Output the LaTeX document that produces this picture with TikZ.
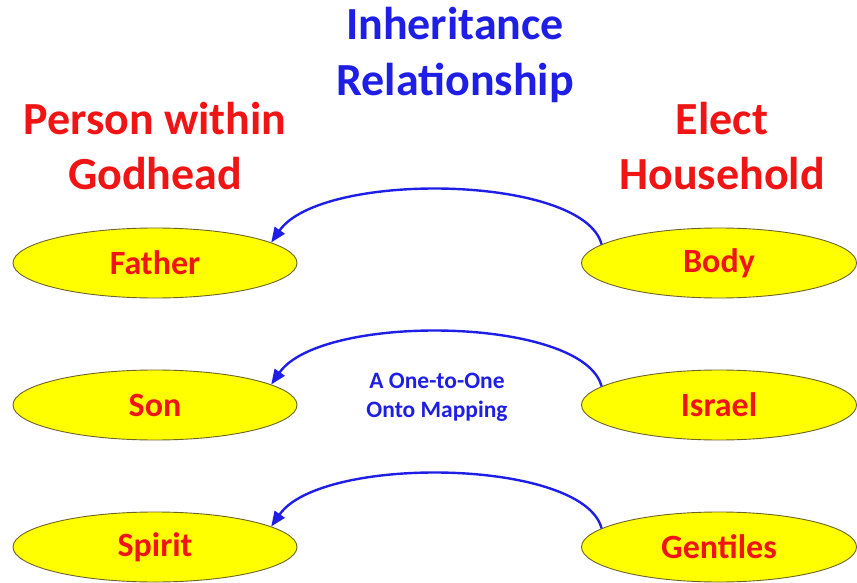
\documentclass[tikz,border=0pt]{standalone}
\usepackage{fontspec}
\setmainfont{Carlito}
\usetikzlibrary{arrows.meta,shapes.geometric}
\definecolor{myred}{RGB}{240,20,20}
\definecolor{myblue}{RGB}{30,30,230}
\definecolor{elfill}{RGB}{255,255,0}
\definecolor{eldraw}{RGB}{110,100,40}
\tikzset{
  elnode/.style={ellipse, draw=eldraw, line width=0.9pt, fill=elfill, inner sep=0pt,
    minimum width=284pt, minimum height=70pt, text=myred, font=\bfseries\fontsize{34}{40}\selectfont},
  bigred/.style={text=myred, font=\bfseries\fontsize{46}{55}\selectfont, align=center},
  bigblue/.style={text=myblue, font=\bfseries\fontsize{46}{56}\selectfont, align=center},
  maparrow/.style={draw=myblue, line width=2.4pt, -{Triangle[length=15pt,width=12pt]}}
}
\begin{document}
\begin{tikzpicture}[x=1pt,y=1pt]
\useasboundingbox (0,0) rectangle (857,582);
\node[bigblue] (title) at (455,527) {Inheritance\\Relationship};
\node[bigred] (left) at (155,436) {Person within\\Godhead};
\node[bigred] (right) at (722,436) {Elect\\Household};
\node[elnode] (father) at (155,319) {Father};
\node[elnode] (son) at (155,177) {Son};
\node[elnode] (spirit) at (155,35) {Spirit};
\node[elnode, minimum width=275pt] (body) at (719,319) {Body};
\node[elnode, minimum width=275pt] (israel) at (719,177) {Israel};
\node[elnode, minimum width=275pt] (gentiles) at (719,35) {Gentiles};
\node[text=myblue, font=\bfseries\fontsize{23.5}{29}\selectfont, align=center] (map) at (437,185) {A One-to-One\\Onto Mapping};
\draw[maparrow] (body.171) .. controls +(-18,70) and +(50,72) .. (father.10);
\draw[maparrow] (israel.171) .. controls +(-18,70) and +(50,72) .. (son.10);
\draw[maparrow] (gentiles.171) .. controls +(-18,70) and +(50,72) .. (spirit.10);
\end{tikzpicture}
\end{document}
